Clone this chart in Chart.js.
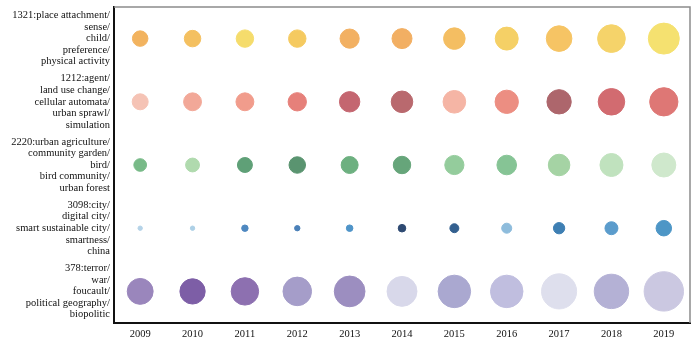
<!DOCTYPE html>
<html>
<head>
<meta charset="utf-8">
<script src="https://cdn.jsdelivr.net/npm/chart.js@4/dist/chart.umd.min.js"></script>
<style>
  html, body { margin: 0; padding: 0; background: #fff; }
  #wrap { width: 700px; height: 343px; }
</style>
</head>
<body>
<div id="wrap"><canvas id="graph"></canvas></div>
<script>
// years along the bottom
var years = ["2009", "2010", "2011", "2012", "2013", "2014", "2015", "2016", "2017", "2018", "2019"];

// topic clusters, one row each (top to bottom)
var topics = [
  ["1321:place attachment/", "sense/", "child/", "preference/", "physical activity"],
  ["1212:agent/", "land use change/", "cellular automata/", "urban sprawl/", "simulation"],
  ["2220:urban agriculture/", "community garden/", "bird/", "bird community/", "urban forest"],
  ["3098:city/", "digital city/", "smart sustainable city/", "smartness/", "china"],
  ["378:terror/", "war/", "foucault/", "political geography/", "biopolitic"]
];

// bubble weight per topic and year
var weight1321 = [15, 17, 19, 19, 23, 25, 29, 33, 41, 48, 60];
var weight1212 = [16, 20, 20, 21, 26, 29, 32, 34, 37, 44, 50];
var weight2220 = [10, 12, 14, 17, 18, 19, 23, 24, 29, 33, 36];
var weight3098 = [1.2, 1.2, 2.6, 1.8, 2.7, 3.6, 5, 6.3, 8, 10.5, 15];
var weight378 = [42, 40, 47, 51, 59, 56, 66, 66, 77, 74, 97];

var colors1321 = ["#f2b35f", "#f4c060", "#f5dc6c", "#f5ca60", "#f2b062", "#f2af63", "#f4be62", "#f5d066", "#f6c464", "#f5d36a", "#f5e170"];
var colors1212 = ["#f5c3b5", "#f2a898", "#f19c8c", "#e6807a", "#c46670", "#b9696e", "#f5b5a5", "#ec8e82", "#ad666c", "#d26b70", "#de7775"];
var colors2220 = ["#78ba88", "#b0daae", "#5fa077", "#5a9470", "#6db080", "#66a57a", "#94cc9c", "#86c495", "#a5d3a4", "#c0e2be", "#cfe8cc"];
var colors3098 = ["#b5d3e8", "#add0e6", "#4e88c0", "#4a80b8", "#4f94c8", "#2e4a72", "#33608f", "#8ebcdc", "#3e7fb3", "#5b9ccc", "#4d96c6"];
var colors378 = ["#9a86bc", "#7d5ea6", "#8d70b0", "#a59dc9", "#9c8ec0", "#d8d8ea", "#aaa8d0", "#c0bedf", "#dedfed", "#b4b1d5", "#cbc8e1"];

var weights = [weight1321, weight1212, weight2220, weight3098, weight378];
var colors = [colors1321, colors1212, colors2220, colors3098, colors378];

var radiusOf = function(w) {
  return 2 * Math.sqrt(w);
};

var datasets = weights.map(function(row, ti) {
  return {
    label: topics[ti][0],
    data: row.map(function(w, yi) {
      return { x: years[yi], y: ti, r: radiusOf(w) };
    }),
    backgroundColor: colors[ti],
    borderColor: colors[ti],
    borderWidth: 1
  };
});

// gray top and right edge of the plot box
var frame = {
  id: "frame",
  afterDraw: function(chart) {
    var a = chart.chartArea;
    var ctx = chart.ctx;
    ctx.save();
    ctx.strokeStyle = "#8c8c8c";
    ctx.lineWidth = 1.5;
    ctx.beginPath();
    ctx.moveTo(a.left, a.top);
    ctx.lineTo(a.right, a.top);
    ctx.lineTo(a.right, a.bottom);
    ctx.stroke();
    ctx.restore();
  }
};

var serif = "'Liberation Serif', 'Times New Roman', serif";

new Chart(document.getElementById("graph"), {
  type: "bubble",
  data: { datasets: datasets },
  plugins: [frame],
  options: {
    responsive: true,
    maintainAspectRatio: false,
    animation: false,
    layout: { autoPadding: false, padding: { top: 7, right: 10, left: 0, bottom: 0 } },
    plugins: {
      legend: { display: false },
      tooltip: { enabled: false }
    },
    scales: {
      x: {
        type: "category",
        labels: years,
        offset: true,
        grid: { display: false, drawTicks: false },
        border: { color: "#111", width: 2 },
        ticks: { color: "#111", padding: 5, maxRotation: 0, autoSkip: false, font: { family: serif, size: 10.5 } },
        afterFit: function(scale) {
          scale.height = 20;
          scale.paddingLeft = 0;
          scale.paddingRight = 0;
        }
      },
      y: {
        type: "linear",
        min: -0.5,
        max: topics.length - 0.5,
        reverse: true,
        grid: { display: false, drawTicks: false },
        border: { color: "#111", width: 2 },
        ticks: {
          color: "#111",
          padding: 4,
          autoSkip: false,
          font: { family: serif, size: 10.5, lineHeight: 1.1 },
          callback: function(v) { return topics[v]; }
        },
        afterBuildTicks: function(scale) {
          scale.ticks = topics.map(function(t, i) { return { value: i }; });
        },
        afterFit: function(scale) {
          scale.width = 114;
          scale.paddingTop = 0;
          scale.paddingBottom = 0;
        }
      }
    }
  }
});
</script>
</body>
</html>
